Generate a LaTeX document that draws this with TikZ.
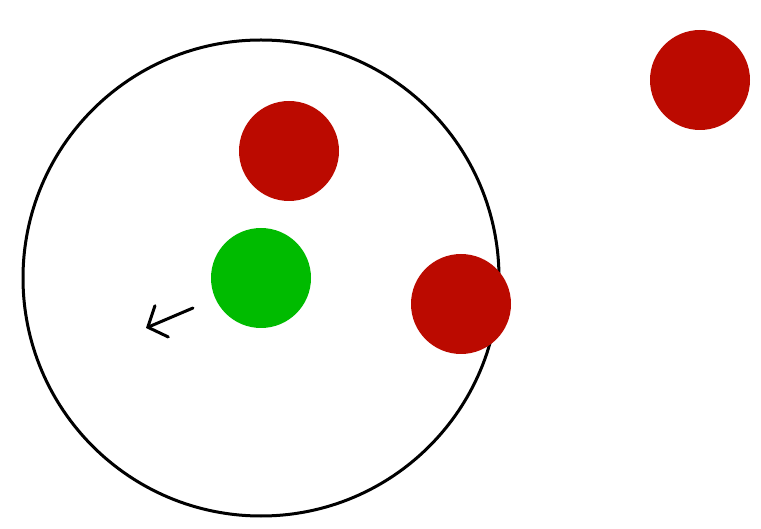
\documentclass[tikz,border=0pt]{standalone}
\usetikzlibrary{arrows.meta}
\definecolor{ballred}{RGB}{187,10,0}
\definecolor{ballgreen}{RGB}{0,187,0}
\begin{document}
\begin{tikzpicture}[
    x=1pt, y=-1pt,
    zone/.style={circle, draw, line width=3pt, minimum size=476pt, inner sep=0pt},
    ball/.style={circle, minimum size=100pt, inner sep=0pt},
    prey/.style={ball, fill=ballred},
    agent/.style={ball, fill=ballgreen}
  ]
    \useasboundingbox (0,0) rectangle (761,529);
    \node[zone] (area) at (261,278) {};
    \node[prey] (r1) at (289,151) {};
    \node[prey] (r2) at (700,80) {};
    \node[prey] (r3) at (461,304) {};
    \node[agent] (me) at (261,278) {};
    \coordinate (tail) at (193,308);
    \coordinate (tip) at (146,328);
    \draw[line width=3pt, line cap=round, -{Straight Barb[length=15pt, width=34pt, line cap=round]}] (tail) -- (tip);
  \end{tikzpicture}
\end{document}
